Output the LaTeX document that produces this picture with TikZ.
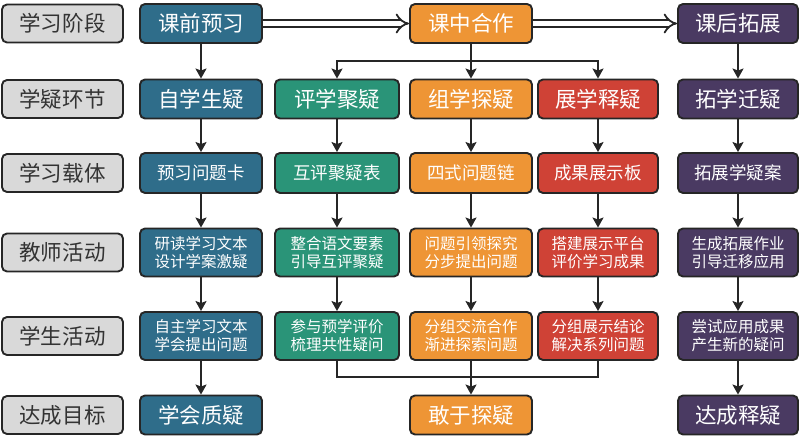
\documentclass[tikz,border=0pt]{standalone}
\usepackage{fontspec}
\setmainfont{Noto Sans CJK SC}
\usetikzlibrary{arrows.meta,positioning}
\definecolor{cblue}{HTML}{2F6D8A}
\definecolor{cgreen}{HTML}{2A9478}
\definecolor{corange}{HTML}{EE9535}
\definecolor{cred}{HTML}{CF4236}
\definecolor{cpurple}{HTML}{4A3A62}
\definecolor{cgray}{HTML}{D9D9D9}
\definecolor{cline}{HTML}{262626}
\tikzset{
  box/.style={draw=cline, line width=1.9pt, rounded corners=5pt, inner sep=0pt, align=center, text=white},
  lbl/.style={box, fill=cgray, text=black!80, minimum width=121pt, minimum height=38pt, font=\fontsize{21.5}{24}\selectfont},
  big/.style={box, minimum height=39pt, font=\fontsize{21.5}{24}\selectfont},
  mid/.style={box, minimum height=40pt, font=\fontsize{17.5}{20}\selectfont},
  two/.style={box, minimum height=48pt, font=\fontsize{15.5}{18}\selectfont},
  w1/.style={minimum width=122pt}, w2/.style={minimum width=124pt},
  w3/.style={minimum width=122pt}, w4/.style={minimum width=120pt},
  w5/.style={minimum width=120pt},
  arr/.style={draw=cline, line width=2.6pt, -{Stealth[length=10pt,width=11pt,inset=2pt]}},
  ln/.style={draw=cline, line width=2.6pt},
  dbl/.style={draw=cline, line width=1.8pt, double=white, double distance=5pt, -{Implies[length=6pt,width=11pt]}}
}
\begin{document}
\begin{tikzpicture}[x=1pt,y=-1pt]
\useasboundingbox (0,0) rectangle (800,444);
% labels
\node[lbl] (l1) at (62.5,23.5) {学习阶段};
\node[lbl] (l2) at (62.5,99) {学疑环节};
\node[lbl] (l3) at (62.5,173) {学习载体};
\node[lbl] (l4) at (62.5,252.5) {教师活动};
\node[lbl] (l5) at (62.5,336) {学生活动};
\node[lbl] (l6) at (62.5,415) {达成目标};
% column 1
\node[big,w1,fill=cblue] (a1) at (201,23.5) {课前预习};
\node[big,w1,fill=cblue] (a2) at (201,99) {自学生疑};
\node[mid,w1,fill=cblue] (a3) at (201,173) {预习问题卡};
\node[two,w1,fill=cblue] (a4) at (201,252.5) {研读学习文本\\设计学案激疑};
\node[two,w1,fill=cblue] (a5) at (201,336) {自主学习文本\\学会提出问题};
\node[big,w1,fill=cblue] (a6) at (201,415) {学会质疑};
% column 2
\node[big,w2,fill=cgreen] (b2) at (337,99) {评学聚疑};
\node[mid,w2,fill=cgreen] (b3) at (337,173) {互评聚疑表};
\node[two,w2,fill=cgreen] (b4) at (337,252.5) {整合语文要素\\引导互评聚疑};
\node[two,w2,fill=cgreen] (b5) at (337,336) {参与预学评价\\梳理共性疑问};
% column 3
\node[big,w3,fill=corange] (c1) at (471,23.5) {课中合作};
\node[big,w3,fill=corange] (c2) at (471,99) {组学探疑};
\node[mid,w3,fill=corange] (c3) at (471,173) {四式问题链};
\node[two,w3,fill=corange] (c4) at (471,252.5) {问题引领探究\\分步提出问题};
\node[two,w3,fill=corange] (c5) at (471,336) {分组交流合作\\渐进探索问题};
\node[big,w3,fill=corange] (c6) at (471,415) {敢于探疑};
% column 4
\node[big,w4,fill=cred] (d2) at (598,99) {展学释疑};
\node[mid,w4,fill=cred] (d3) at (598,173) {成果展示板};
\node[two,w4,fill=cred] (d4) at (598,252.5) {搭建展示平台\\评价学习成果};
\node[two,w4,fill=cred] (d5) at (598,336) {分组展示结论\\解决系列问题};
% column 5
\node[big,w5,fill=cpurple] (e1) at (738,23.5) {课后拓展};
\node[big,w5,fill=cpurple] (e2) at (738,99) {拓学迁疑};
\node[mid,w5,fill=cpurple] (e3) at (738,173) {拓展学疑案};
\node[two,w5,fill=cpurple] (e4) at (738,252.5) {生成拓展作业\\引导迁移应用};
\node[two,w5,fill=cpurple] (e5) at (738,336) {尝试应用成果\\产生新的疑问};
\node[big,w5,fill=cpurple] (e6) at (738,415) {达成释疑};
% double arrows
\draw[dbl] (a1.east) -- (c1.west);
\draw[dbl] (c1.east) -- (e1.west);
% vertical arrows
\foreach \u/\v in {a1/a2,a2/a3,a3/a4,a4/a5,a5/a6,
                   b2/b3,b3/b4,b4/b5,
                   c1/c2,c2/c3,c3/c4,c4/c5,c5/c6,
                   d2/d3,d3/d4,d4/d5,
                   e1/e2,e2/e3,e3/e4,e4/e5,e5/e6}
  \draw[arr] (\u.south) -- (\v.north);
% split
\coordinate (split) at (471,61);
\draw[arr] (split) -| (b2.north);
\draw[arr] (split) -| (d2.north);
% merge
\coordinate (merge) at (471,377);
\draw[ln] (b5.south) |- (merge);
\draw[ln] (d5.south) |- (merge);
\end{tikzpicture}
\end{document}
